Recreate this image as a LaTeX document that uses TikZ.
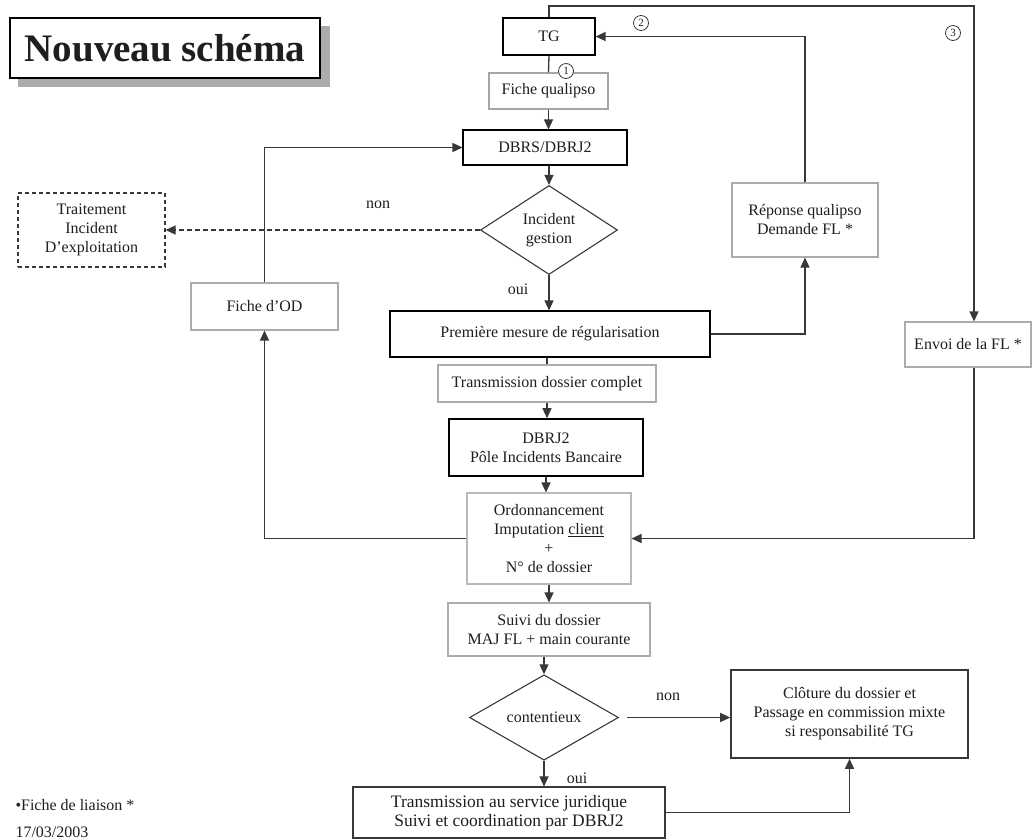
\documentclass[tikz,border=0pt]{standalone}
\usepackage{fontspec}
\setmainfont{Liberation Serif}
\usetikzlibrary{shapes.geometric,arrows.meta}
\definecolor{ln}{HTML}{383838}
\definecolor{txt}{HTML}{1E1E1E}
\begin{document}
\begin{tikzpicture}[x=1pt,y=-1pt,
  every node/.style={text=txt,font=\fontsize{16}{19}\selectfont},
  box/.style={draw=#1,line width=1.1pt,fill=white,align=center,inner sep=0pt},
  box/.default=ln,
  losange/.style={diamond,draw=ln,line width=1.1pt,inner sep=0pt,align=center},
  fl/.style={draw=ln,line width=1.3pt,-{Triangle[length=10pt,width=9pt]}},
  ligne/.style={draw=ln,line width=1.3pt},
  num/.style={circle,draw=ln,fill=white,line width=0.8pt,inner sep=0pt,minimum size=15pt,font=\fontsize{11}{11}\selectfont}]
        \useasboundingbox (0,0) rectangle (1032,839);
        \fill[gray!65] (18,26) rectangle (330,87);
        \node[box=black,minimum width=310,minimum height=60,font=\fontsize{39}{39}\selectfont\bfseries] (titre) at (165,48) {Nouveau schéma};

        \node[box=black,minimum width=92,minimum height=37] (tg) at (549,36.5) {TG};
        \node[box=gray!70,minimum width=119,minimum height=36] (fq) at (548.5,91) {Fiche qualipso};
        \node[box=black,minimum width=164,minimum height=35] (dbrs) at (545,147.5) {DBRS/DBRJ2};
        \node[losange,minimum width=137,minimum height=89] (incid) at (549,230) {Incident\\gestion};
        \node[box,dash pattern=on 4pt off 3pt,minimum width=147,minimum height=74] (traitement) at (91.5,230) {Traitement\\Incident\\D’exploitation};
        \node[box=black,minimum width=320,minimum height=46] (prem) at (550,334) {Première mesure de régularisation};
        \node[box=gray!65,minimum width=147,minimum height=47] (od) at (264.5,306.5) {Fiche d’OD};
        \node[box=gray!65,minimum width=146,minimum height=74] (rep) at (805,220) {Réponse qualipso\\Demande FL *};
        \node[box=gray!65,minimum width=126,minimum height=45] (envoi) at (968,344.5) {Envoi de la FL *};
        \node[box=gray!65,minimum width=218,minimum height=37] (tdc) at (547,383.5) {Transmission dossier complet};
        \node[box=black,line width=1.6pt,minimum width=194,minimum height=57] (dbrj) at (546,447.5) {DBRJ2\\Pôle Incidents Bancaire};
        \node[box=gray!55,minimum width=164,minimum height=91] (ordo) at (549,538.5) {Ordonnancement\\Imputation \underline{client}\\+\\N° de dossier};
        \node[box=gray!65,minimum width=202,minimum height=53] (suivi) at (549,629.5) {Suivi du dossier\\MAJ FL + main courante};
        \node[losange,minimum width=149,minimum height=73] (cont) at (544,717.5) {contentieux};
        \node[box=ln,line width=1.6pt,minimum width=237,minimum height=88] (clot) at (849.5,714) {Clôture du dossier et\\Passage en commission mixte\\si responsabilité TG};
        \node[box=ln,minimum width=312,minimum height=51,font=\fontsize{17.5}{19}\selectfont] (jur) at (509,812.5) {Transmission au service juridique\\Suivi et coordination par DBRJ2};

        \node (non1) at (378,205) {non};
        \node (oui1) at (518,289) {oui};
        \node (non2) at (668,697) {non};
        \node (oui2) at (577,778) {oui};
        \node[anchor=west] (liaison) at (12,805) {•Fiche de liaison *};
        \node[anchor=west] (date) at (12,832) {17/03/2003};
        \coordinate (haut) at (974,6);

        \draw[ligne] (tg.south) -- (fq.north);
        \draw[fl] (fq.south) -- (fq.south |- dbrs.north);
        \draw[fl] (dbrs.south -| incid.north) -- (incid.north);
        \draw[fl,dash pattern=on 5pt off 3pt] (incid.west) -- (traitement.east);
        \draw[fl] (incid.south) -- (incid.south |- prem.north);
        \draw[fl] (prem.east) -| (rep.south);
        \draw[fl] (rep.north) |- (tg.east);
        \draw[fl] (tg.north) |- (haut) -- (haut |- envoi.north);
        \draw[fl] (haut |- envoi.south) |- (ordo.east);
        \draw[ligne] (tdc.north |- prem.south) -- (tdc.north);
        \draw[fl] (tdc.south) -- (tdc.south |- dbrj.north);
        \draw[fl] (dbrj.south) -- (dbrj.south |- ordo.north);
        \draw[fl] (ordo.west) -| (od.south);
        \draw[fl] (od.north) |- (dbrs.west);
        \draw[fl] (ordo.south) -- (ordo.south |- suivi.north);
        \draw[fl] (suivi.south -| cont.north) -- (cont.north);
        \draw[fl,shorten <=8pt] (cont.east) -- (cont.east -| clot.west);
        \draw[fl] (cont.south) -- (cont.south |- jur.north);
        \draw[fl] (jur.east) -| (clot.south);

        \node[num] (n1) at (566,71) {1};
        \node[num] (n2) at (641,23) {2};
        \node[num] (n3) at (953,33) {3};
      \end{tikzpicture}
\end{document}
